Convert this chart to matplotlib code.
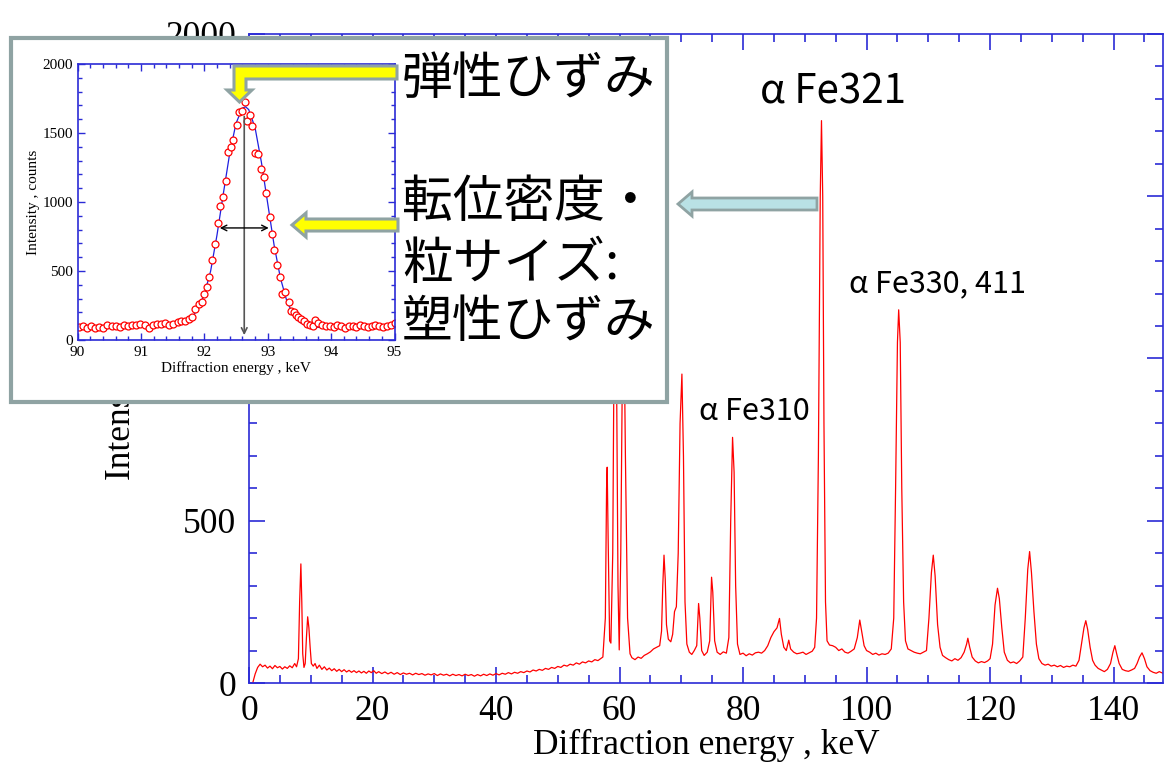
import numpy as np
import matplotlib
matplotlib.use("Agg")
from matplotlib import pyplot as plt
from matplotlib.patches import Rectangle, Polygon
from matplotlib.ticker import MultipleLocator

# full spectrum, keV / counts
energy = [0.6, 1.0, 1.4, 1.8, 2.2, 2.6, 3.0, 3.4, 3.8, 4.2, 4.6, 5.0, 5.4, 5.8, 6.2, 6.6, 7.0, 7.4, 7.7,
          8.0, 8.2, 8.4, 8.55, 8.7, 8.9, 9.1, 9.3, 9.5, 9.7, 9.9, 10.1, 10.4, 10.7, 11.0, 11.4, 11.8,
          12.2, 12.6, 13.0, 13.4, 13.8, 14.2, 14.6, 15.0, 15.4, 15.8, 16.2, 16.6, 17.0, 17.4, 17.8,
          18.2, 18.6, 19.0, 19.4, 19.8, 20.2, 20.6, 21.0, 21.5, 22.0, 22.5, 23.0, 23.5, 24.0, 24.5,
          25.0, 25.5, 26.0, 26.5, 27.0, 27.5, 28.0, 28.5, 29.0, 29.5, 30.0, 30.5, 31.0, 31.5, 32.0,
          32.5, 33.0, 33.5, 34.0, 34.5, 35.0, 35.5, 36.0, 36.5, 37.0, 37.5, 38.0, 38.5, 39.0, 39.5,
          40.0, 40.5, 41.0, 41.5, 42.0, 42.5, 43.0, 43.5, 44.0, 44.5, 45.0, 45.5, 46.0, 46.5, 47.0,
          47.5, 48.0, 48.5, 49.0, 49.5, 50.0, 50.5, 51.0, 51.5, 52.0, 52.5, 53.0, 53.5, 54.0, 54.5,
          55.0, 55.5, 56.0, 56.5, 57.0, 57.3,
          57.7, 57.9, 58.0, 58.15, 58.4, 58.6, 58.9, 59.1, 59.3, 59.5, 59.75, 59.95, 60.2, 60.45,
          60.7, 60.95, 61.3, 61.7, 62.0, 62.5, 63.0, 63.5, 64.0, 64.5, 65.0, 65.5, 66.0, 66.5,
          66.8, 67.0, 67.2, 67.4, 67.6, 67.9, 68.3, 68.6, 68.9, 69.2, 69.5, 69.8, 70.1, 70.35, 70.6,
          70.9, 71.3, 71.7, 72.1, 72.5, 72.8, 73.0, 73.3, 73.7, 74.2, 74.6, 74.9, 75.1, 75.4, 75.8,
          76.3, 76.8, 77.3, 77.7, 78.0, 78.3, 78.55, 78.8, 79.1, 79.5, 80.0, 80.5, 81.0, 81.5, 82.0,
          82.5, 83.0, 83.5, 84.0, 84.5, 85.0, 85.5, 85.9, 86.2, 86.6, 87.0, 87.4, 87.7, 88.2, 88.7,
          89.2, 89.7, 90.2, 90.7, 91.2, 91.6, 91.9, 92.2, 92.5, 92.7, 92.9, 93.1, 93.35, 93.6, 94.0,
          94.5, 95.0, 95.5, 96.0, 96.5, 97.0, 97.5, 98.0, 98.5, 98.9, 99.2, 99.6, 100.0, 100.5,
          101.0, 101.5, 102.0, 102.5, 103.0, 103.5, 104.0, 104.4, 104.7, 105.0, 105.2, 105.45,
          105.7, 106.0, 106.3, 106.7, 107.2, 107.7, 108.2, 108.7, 109.2, 109.7, 110.1, 110.5, 110.8,
          111.1, 111.5, 111.9, 112.3, 112.8, 113.3, 113.8, 114.3, 114.8, 115.3, 115.8, 116.2, 116.4,
          116.7, 117.1, 117.6, 118.1, 118.6, 119.1, 119.6, 120.0, 120.4, 120.8, 121.2, 121.5, 121.9,
          122.3, 122.8, 123.3, 123.8, 124.3, 124.8, 125.3, 125.7, 126.1, 126.4, 126.7, 127.1, 127.5,
          127.9, 128.4, 128.9, 129.4, 129.9, 130.4, 130.9, 131.4, 131.9, 132.4, 132.9, 133.4, 133.9,
          134.4, 134.8, 135.2, 135.5, 135.8, 136.2, 136.6, 137.0, 137.5, 138.0, 138.5, 139.0, 139.5,
          139.9, 140.2, 140.5, 140.9, 141.4, 141.9, 142.4, 142.9, 143.4, 143.8, 144.2, 144.6, 145.0,
          145.4, 145.9, 146.4, 146.9, 147.4, 148.0]
counts = [0, 28, 48, 58, 50, 55, 46, 52, 44, 54, 47, 51, 43, 50, 45, 53, 47, 60, 50,
          75, 250, 367, 250, 90, 48, 60, 140, 204, 170, 110, 60, 52, 60, 45, 55, 42,
          50, 40, 46, 38, 44, 36, 42, 35, 41, 34, 39, 33, 38, 32, 37,
          31, 36, 30, 37, 32, 38, 30, 35, 29, 34, 28, 33, 27, 32, 26,
          31, 27, 30, 25, 30, 26, 29, 24, 28, 25, 29, 23, 28, 24, 27,
          22, 27, 23, 26, 22, 27, 23, 26, 21, 26, 22, 27, 23, 28, 24,
          29, 25, 30, 27, 32, 28, 33, 30, 35, 32, 37, 34, 40, 37, 42,
          39, 45, 42, 48, 45, 51, 48, 55, 52, 58, 55, 62, 58, 65, 62,
          68, 65, 72, 69, 76, 80,
          200, 600, 665, 450, 130, 123, 400, 1000, 1250, 1000, 300, 102, 400, 950,
          1150, 700, 200, 90, 78, 72, 80, 76, 85, 90, 96, 105, 110, 115,
          160, 300, 394, 320, 180, 135, 127, 150, 220, 235, 400, 800, 952, 700, 250,
          120, 95, 88, 100, 115, 245, 200, 100, 85, 95, 130, 326, 280, 130, 95,
          88, 96, 92, 140, 500, 757, 650, 300, 120, 88, 92, 84, 90, 86, 93,
          95, 92, 100, 115, 140, 158, 170, 199, 150, 110, 100, 132, 105, 95, 90,
          92, 95, 88, 93, 98, 110, 200, 700, 1500, 1733, 1500, 800, 250, 130, 117,
          115, 110, 100, 105, 95, 92, 98, 105, 140, 194, 160, 115, 100, 95,
          88, 92, 86, 90, 88, 92, 105, 200, 600, 1050, 1150, 1050,
          600, 250, 130, 105, 100, 95, 92, 90, 95, 100, 200, 340, 394,
          330, 180, 110, 85, 78, 72, 68, 75, 70, 78, 95, 120, 138,
          110, 80, 68, 62, 66, 63, 68, 75, 120, 240, 292, 260, 170,
          95, 70, 62, 65, 60, 68, 80, 200, 350, 405, 340, 220, 120,
          75, 60, 55, 58, 52, 55, 50, 54, 48, 52, 50, 55, 52,
          70, 120, 170, 192, 165, 110, 70, 55, 45, 40, 35, 42, 60,
          95, 115, 90, 60, 42, 38, 36, 40, 45, 60, 80, 93, 75,
          50, 38, 33, 30, 35, 30]

# inset: measured points around the alpha-Fe321 peak
peak_e = [90.02, 90.08, 90.15, 90.21, 90.28, 90.34, 90.41, 90.47, 90.54, 90.60, 90.67, 90.73,
          90.80, 90.86, 90.93, 90.99, 91.06, 91.12, 91.19, 91.25, 91.32, 91.38, 91.45, 91.51,
          91.58, 91.64, 91.70,
          91.76, 91.80, 91.86, 91.92, 91.96, 91.99, 92.04, 92.07, 92.12, 92.17, 92.21, 92.25,
          92.29, 92.34, 92.38, 92.42, 92.46, 92.51, 92.54, 92.59, 92.64, 92.68, 92.72, 92.76,
          92.80, 92.85, 92.89, 92.94, 92.98, 93.03, 93.06, 93.10, 93.15, 93.19, 93.23, 93.28,
          93.33, 93.36, 93.41, 93.45, 93.48, 93.53, 93.57, 93.62, 93.66, 93.71,
          93.75, 93.80, 93.86, 93.92, 93.98, 94.04, 94.10, 94.16, 94.22, 94.28, 94.34, 94.40,
          94.46, 94.52, 94.58, 94.64, 94.70, 94.76, 94.82, 94.88, 94.94, 95.00]
peak_c = [92, 100, 88, 104, 84, 96, 90, 108, 98, 102, 95, 112, 100, 110, 106, 114, 112, 86,
          110, 118, 114, 120, 108, 116, 130, 138, 140,
          152, 164, 225, 261, 273, 333, 382, 459, 582, 696, 845, 973,
          1034, 1150, 1360, 1396, 1449, 1558, 1650, 1662, 1727, 1585, 1631, 1553,
          1353, 1345, 1239, 1184, 1063, 894, 768, 655, 543, 459, 333, 350,
          273, 208, 200, 184, 164, 152, 140, 116, 111, 104,
          145, 120, 110, 105, 100, 95, 110, 100, 90, 100, 105, 95,
          110, 100, 95, 100, 110, 105, 95, 100, 110, 125]

# fitted profile (blue line)
fit_e = [90.0, 90.5, 91.0, 91.3, 91.5, 91.6, 91.7, 91.8, 91.9, 92.0, 92.1, 92.2, 92.3, 92.4,
         92.5, 92.6, 92.65, 92.7, 92.8, 92.9, 93.0, 93.1, 93.2, 93.3, 93.4, 93.5, 93.6, 93.7,
         93.8, 94.0, 94.5, 95.0]
fit_c = [92, 93, 95, 98, 105, 112, 128, 160, 225, 330, 500, 760, 1060, 1350,
         1570, 1680, 1690, 1670, 1540, 1290, 990, 690, 450, 285, 185, 130, 105, 95,
         92, 90, 90, 92]

peak_labels = ["α Fe321", "α Fe330, 411", "α Fe310"]
label_e = [94.5, 111.5, 81.9]
label_c = [1821, 1230, 838]
label_size = [29, 22, 22]

jp_lines = ["弾性ひずみ", "転位密度・", "粒サイズ:", "塑性ひずみ"]

W, H = 1165, 764


def px(x, y):
    return x / W, 1 - y / H


axis_blue = "#2b2bd6"
frame_gray = "#8fa3a3"
serif = "Liberation Serif"

fig = plt.figure(figsize=(W / 100, H / 100), dpi=100)

# ---- main spectrum ----
ax = fig.add_axes([249 / W, 1 - 683 / H, (1163 - 249) / W, (683 - 34) / H])
ax.set_zorder(0)
ax.plot(energy, counts, color="red", lw=0.9)
ax.set_xlim(0, 148)
ax.set_ylim(0, 2000)
ax.xaxis.set_major_locator(MultipleLocator(20))
ax.xaxis.set_minor_locator(MultipleLocator(5))
ax.yaxis.set_major_locator(MultipleLocator(500))
ax.yaxis.set_minor_locator(MultipleLocator(100))
ax.tick_params(which="both", direction="in", top=True, right=True, color=axis_blue, width=1.2,
               labelsize=25.5, pad=9)
ax.tick_params(which="major", length=11.5)
ax.tick_params(which="minor", length=6)
for s in ax.spines.values():
    s.set_color(axis_blue)
    s.set_linewidth(1.2)
for t in ax.get_xticklabels() + ax.get_yticklabels():
    t.set_fontfamily(serif)
# 1000 and 1500 sit behind the inset frame anyway
ax.set_yticks([0, 500, 1000, 1500, 2000], ["0", "500", "", "", "2000"])
ax.set_xlabel("Diffraction energy , keV", fontsize=25.5, fontfamily=serif, labelpad=0)
ax.set_ylabel("Intensity , counts", fontsize=25.5, fontfamily=serif, labelpad=20)

for lab, e, c, fs in zip(peak_labels, label_e, label_c, label_size):
    ax.text(e, c, lab, fontsize=fs, ha="center", va="center",
            fontfamily=["Noto Sans CJK JP", "DejaVu Sans"])

# light blue arrow from the 321 peak to the inset
blue_arrow = [(817, 198), (692, 198), (692, 192), (678, 204), (692, 216), (692, 210), (817, 210)]
fig.add_artist(Polygon([px(x, y) for x, y in blue_arrow], closed=True, transform=fig.transFigure,
                       facecolor="#b9e1e5", edgecolor=frame_gray, lw=2, zorder=4))

# ---- inset frame ----
fig.add_artist(Rectangle(px(11, 402), (667 - 11) / W, (402 - 38) / H, transform=fig.transFigure,
                         facecolor="white", edgecolor=frame_gray, lw=3, zorder=1))

# ---- inset plot ----
ins = fig.add_axes([77.5 / W, 1 - 340 / H, (394.5 - 77.5) / W, (340 - 64) / H])
ins.set_zorder(2)
ins.plot(fit_e, fit_c, color="#1f1fe0", lw=0.9)
ins.plot(peak_e, peak_c, "o", ms=5, mfc="white", mec="red", mew=0.9)
ins.set_xlim(90, 95)
ins.set_ylim(0, 2000)
ins.xaxis.set_major_locator(MultipleLocator(1))
ins.xaxis.set_minor_locator(MultipleLocator(0.2))
ins.yaxis.set_major_locator(MultipleLocator(500))
ins.yaxis.set_minor_locator(MultipleLocator(100))
ins.tick_params(which="both", direction="in", top=True, right=True, color=axis_blue, width=1,
                labelsize=11, pad=3)
ins.tick_params(axis="x", pad=4)
ins.tick_params(which="major", length=5)
ins.tick_params(which="minor", length=3)
for s in ins.spines.values():
    s.set_color(axis_blue)
    s.set_linewidth(1.2)
for t in ins.get_xticklabels() + ins.get_yticklabels():
    t.set_fontfamily(serif)
ins.set_xlabel("Diffraction energy , keV", fontsize=11, fontfamily=serif, labelpad=2)
ins.set_ylabel("Intensity , counts", fontsize=11, fontfamily=serif, labelpad=2)

ins.annotate("", xy=(92.63, 15), xytext=(92.63, 1640),
             arrowprops=dict(arrowstyle="->", color="#555555", lw=1.2))
ins.annotate("", xy=(92.2, 812), xytext=(93.06, 812),
             arrowprops=dict(arrowstyle="<->", color="black", lw=1))

# yellow block arrows
l_arrow = [(397, 66), (234, 66), (234, 90), (227, 90), (239.5, 102), (252, 90), (246, 90),
           (246, 79), (397, 79)]
h_arrow = [(398, 219), (306, 219), (306, 213), (292, 225), (306, 237), (306, 231), (398, 231)]
for shape in [l_arrow, h_arrow]:
    fig.add_artist(Polygon([px(x, y) for x, y in shape], closed=True, transform=fig.transFigure,
                           facecolor="#ffff00", edgecolor=frame_gray, lw=2.2, zorder=4))

# japanese captions
jp_y = [80, 203, 265, 323]
for txt, yy in zip(jp_lines, jp_y):
    x0, y0 = px(402, yy)
    fig.text(x0, y0, txt, fontsize=36.5, ha="left", va="center", zorder=3,
             fontfamily=["Noto Sans CJK JP", "DejaVu Sans"])

fig.savefig("out.png", dpi=100)
